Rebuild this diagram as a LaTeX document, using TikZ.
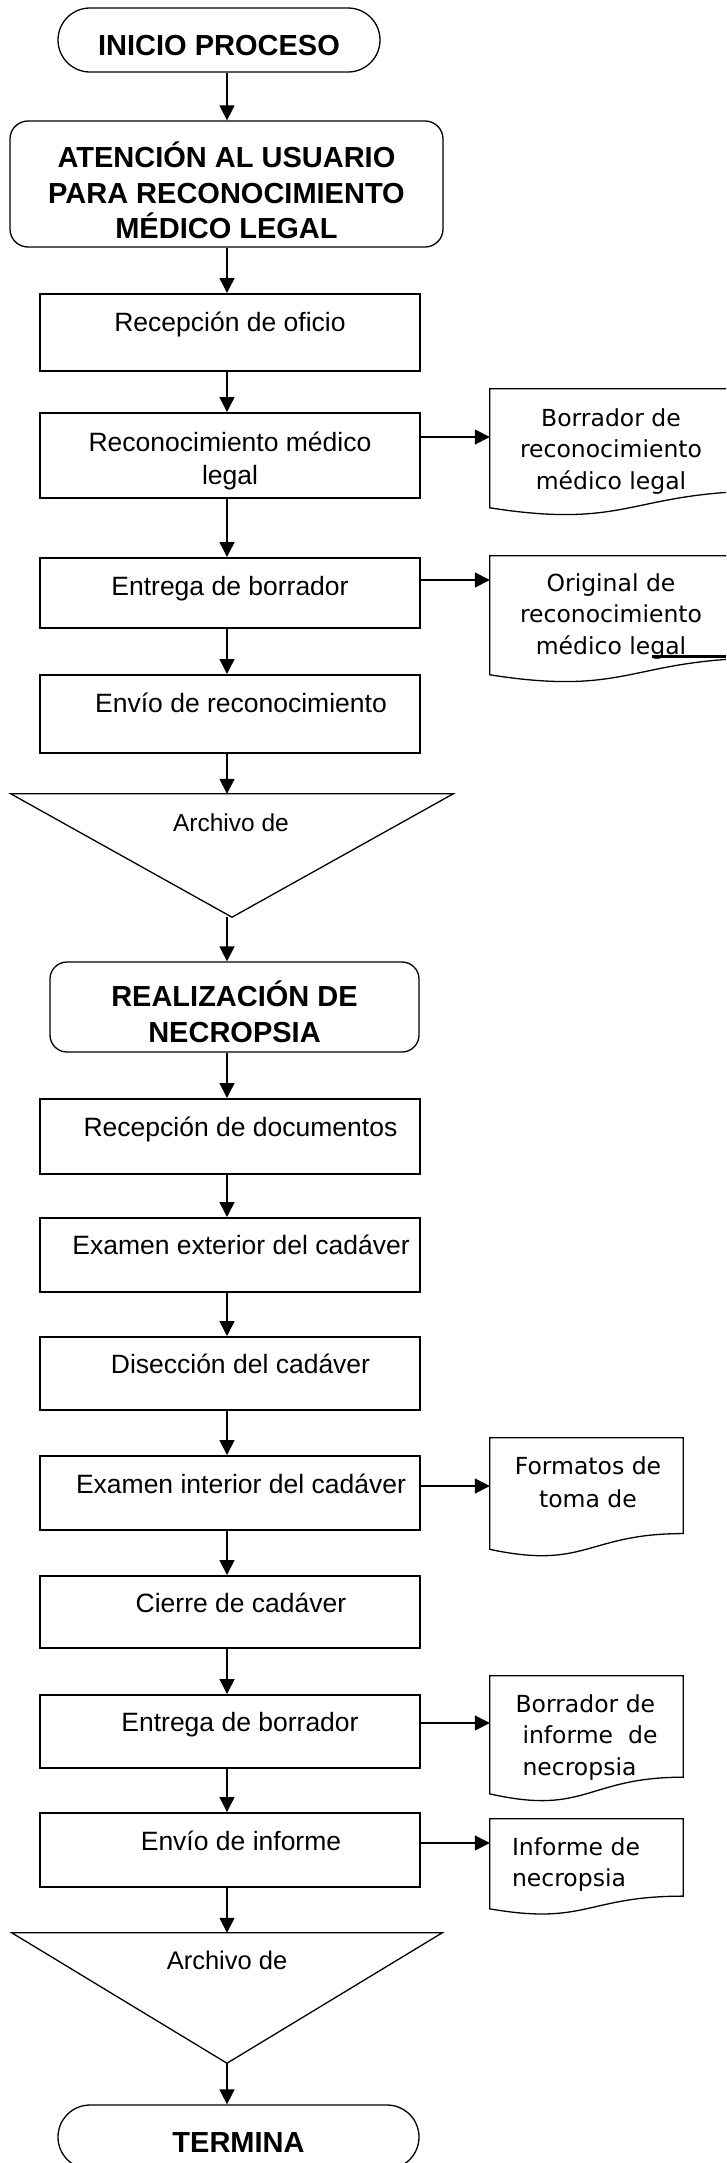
\documentclass[tikz,border=0pt]{standalone}
\usepackage{fontspec}
\setmainfont{Liberation Sans}
\newfontfamily\docfont{DejaVu Sans}
\usetikzlibrary{arrows.meta,calc,shapes.misc}

\tikzset{
  proc/.style={draw,line width=2pt,minimum width=380pt,inner sep=0pt},
  head/.style={draw,line width=1.3pt,inner sep=0pt},
  term/.style={draw,line width=1.3pt,rounded rectangle,minimum height=64pt,inner sep=0pt},
  docu/.style={inner sep=0pt},
  arch/.style={inner sep=0pt},
  lab/.style={inner sep=0pt,font=\fontsize{26.5}{33}\selectfont,text height=20pt,text depth=6pt,align=center},
  blab/.style={inner sep=0pt,font=\fontsize{29}{35.5}\selectfont\bfseries,text height=21pt,text depth=0pt,align=center},
  dlab/.style={inner sep=0pt,font=\docfont\fontsize{23.5}{31.5}\selectfont,text height=18pt,text depth=5.6pt,align=center},
  arr/.style={->,line width=1.5pt},
  thin/.style={line width=1.3pt}
}
\newcommand{\docoutline}[1]{%
  \draw[thin] (#1.north west) -- (#1.north east)
    -- ($(#1.north east)!0.802!(#1.south east)$)
    .. controls ($(#1.north)!0.802!(#1.south)$) and ($(#1.north)!1.1075!(#1.south)$)
    .. ($(#1.north west)!0.934!(#1.south west)$) -- cycle;}

\begin{document}
\begin{tikzpicture}[x=1pt,y=-1pt,>={Triangle[length=15pt,width=15pt]}]
  \useasboundingbox (0,0) rectangle (726,2163);
  \clip (0,0) rectangle (726,2163);
  \fill[white] (0,0) rectangle (726,2163);
  \coordinate (col) at (227,0);

  % reconocimiento medico legal
  \node[term,minimum width=322pt,label={[blab,yshift=-5pt]center:INICIO PROCESO}] (ini) at (219,40) {};
  \node[head,rounded corners=18pt,minimum width=433pt,minimum height=126pt,
    label={[blab,yshift=-44pt]center:ATENCIÓN AL USUARIO\\PARA RECONOCIMIENTO\\MÉDICO LEGAL}] (aten) at (226.5,184) {};
  \node[proc,minimum height=77pt,label={[lab,yshift=8pt]center:Recepción de oficio}] (rof) at (230,332.5) {};
  \node[proc,minimum height=85pt,label={[lab,yshift=-21.5pt]center:Reconocimiento médico\\legal}] (rml) at (230,455.5) {};
  \node[proc,minimum height=70pt,label={[lab,yshift=5pt]center:Entrega de borrador}] (ent1) at (230,593) {};
  \node[proc,minimum height=78pt,label={[lab,xshift=11pt,yshift=9pt]center:Envío de reconocimiento}] (env1) at (230,714) {};
  \node[arch,minimum width=442pt,minimum height=123pt,label={[lab,font=\fontsize{24.5}{30}\selectfont,xshift=-1pt,yshift=30.7pt]center:Archivo de}] (arc1) at (232,855.5) {};
  \draw[thin] (arc1.north west) -- (arc1.north east) -- (arc1.south) -- cycle;

  \node[docu,minimum width=280pt,minimum height=127pt,label={[dlab,xshift=-19pt,yshift=-30.5pt]center:Borrador de\\reconocimiento\\médico legal}] (doc1) at (630,452.5) {};
  \docoutline{doc1}
  \node[docu,minimum width=280pt,minimum height=127pt,label={[dlab,xshift=-19pt,yshift=-28.5pt]center:Original de\\reconocimiento\\médico legal}] (doc2) at (630,619.5) {};
  \docoutline{doc2}
  \draw[line width=3pt] (652,656.5) -- (726,656.5);

  % necropsia
  \node[head,rounded corners=17pt,minimum width=369pt,minimum height=90pt,
    label={[blab,yshift=-24.5pt]center:REALIZACIÓN DE\\NECROPSIA}] (real) at (234.5,1007) {};
  \node[proc,minimum height=75pt,label={[lab,xshift=10.5pt,yshift=7pt]center:Recepción de documentos}] (rdoc) at (230,1136.5) {};
  \node[proc,minimum height=74pt,label={[lab,xshift=11pt,yshift=8pt]center:Examen exterior del cadáver}] (eext) at (230,1255) {};
  \node[proc,minimum height=73pt,label={[lab,xshift=10.5pt,yshift=7pt]center:Disección del cadáver}] (dis) at (230,1373.5) {};
  \node[proc,minimum height=74pt,label={[lab,xshift=11pt,yshift=7pt]center:Examen interior del cadáver}] (eint) at (230,1493) {};
  \node[proc,minimum height=72pt,label={[lab,xshift=11pt,yshift=7pt]center:Cierre de cadáver}] (cie) at (230,1612) {};
  \node[proc,minimum height=73pt,label={[lab,xshift=10pt,yshift=7pt]center:Entrega de borrador}] (ent2) at (230,1731.5) {};
  \node[proc,minimum height=74pt,label={[lab,xshift=11pt,yshift=7pt]center:Envío de informe}] (envinf) at (230,1850) {};
  \node[arch,minimum width=430pt,minimum height=130pt,label={[lab,font=\fontsize{25.5}{30}\selectfont,yshift=36pt]center:Archivo de}] (arc2) at (227,1998) {};
  \draw[thin] (arc2.north west) -- (arc2.north east) -- (arc2.south) -- cycle;
  \node[term,minimum width=361pt,label={[blab,yshift=-5pt]center:TERMINA}] (fin) at (238.5,2137) {};

  \node[docu,minimum width=193pt,minimum height=119pt,label={[dlab,xshift=1.5pt,yshift=-4pt,font=\docfont\fontsize{23.5}{33}\selectfont]center:Formatos de\\toma de}] (doc3) at (586.5,1497.5) {};
  \docoutline{doc3}
  \node[docu,minimum width=193pt,minimum height=126pt,label={[dlab,align=left,yshift=-30pt]center:Borrador de\\\hspace*{7pt}informe\ \ de\\\hspace*{7pt}necropsia}] (doc4) at (586.5,1739) {};
  \docoutline{doc4}
  \node[docu,minimum width=193pt,minimum height=96pt,label={[dlab,align=left,xshift=-10.5pt,yshift=-13.5pt]center:Informe de\\necropsia}] (doc5) at (586.5,1867) {};
  \docoutline{doc5}

  % flechas
  \draw[arr] (ini.south -| col) -- (aten.north -| col);
  \draw[arr] (aten.south -| col) -- (rof.north -| col);
  \draw[arr] (rof.south -| col) -- (rml.north -| col);
  \draw[arr] (rml.south -| col) -- (ent1.north -| col);
  \draw[arr] (ent1.south -| col) -- (env1.north -| col);
  \draw[arr] (env1.south -| col) -- (arc1.north -| col);
  \draw[arr] (arc1.south -| col) -- (real.north -| col);
  \draw[arr] (real.south -| col) -- (rdoc.north -| col);
  \draw[arr] (rdoc.south -| col) -- (eext.north -| col);
  \draw[arr] (eext.south -| col) -- (dis.north -| col);
  \draw[arr] (dis.south -| col) -- (eint.north -| col);
  \draw[arr] (eint.south -| col) -- (cie.north -| col);
  \draw[arr] (cie.south -| col) -- (ent2.north -| col);
  \draw[arr] (ent2.south -| col) -- (envinf.north -| col);
  \draw[arr] (envinf.south -| col) -- (arc2.north -| col);
  \draw[arr] (arc2.south -| col) -- (fin.north -| col);

  \draw[arr] ([yshift=18.5pt]rml.east) coordinate (p1) -- (p1 -| doc1.west);
  \draw[arr] ([yshift=13pt]ent1.east) coordinate (p2) -- (p2 -| doc2.west);
  \draw[arr] ([yshift=7pt]eint.east) coordinate (p3) -- (p3 -| doc3.west);
  \draw[arr] ([yshift=8.5pt]ent2.east) coordinate (p4) -- (p4 -| doc4.west);
  \draw[arr] ([yshift=7pt]envinf.east) coordinate (p5) -- (p5 -| doc5.west);
\end{tikzpicture}
\end{document}
